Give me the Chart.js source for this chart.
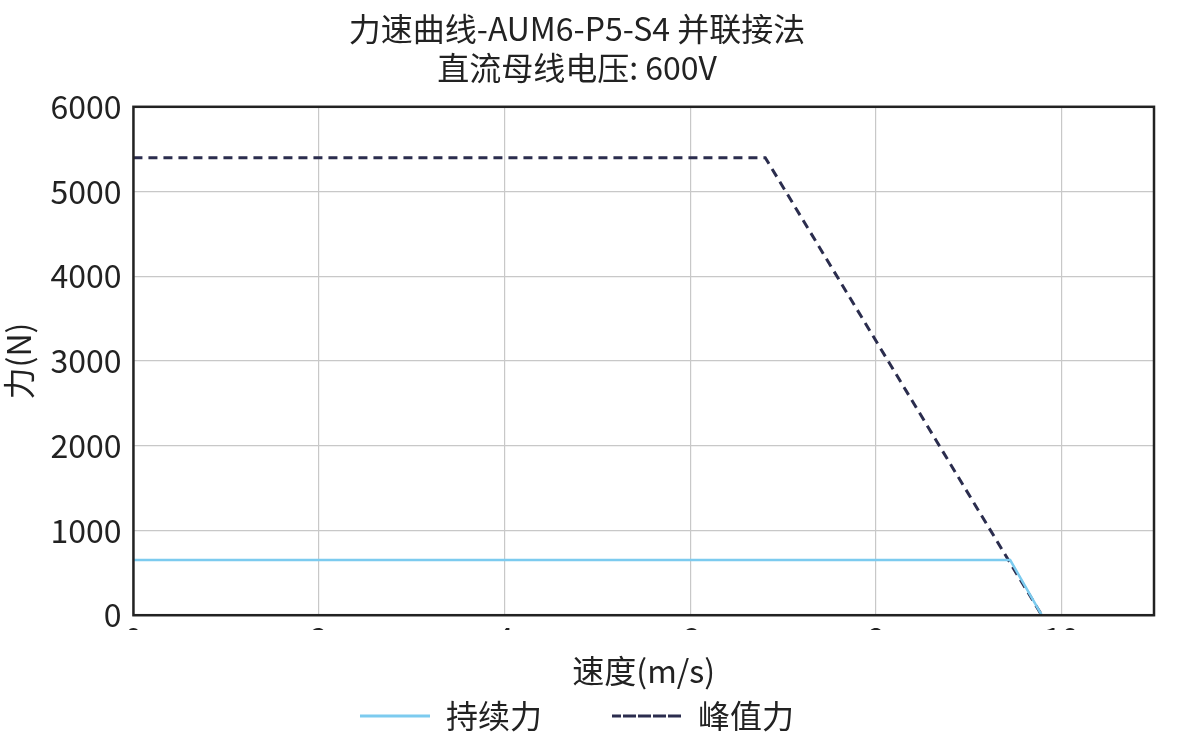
<!DOCTYPE html>
<html><head><meta charset="utf-8">
<script src="https://cdn.jsdelivr.net/npm/chart.js@4"></script>
<style>body{margin:0;background:#fff}#wrap{width:1198px;height:742px}</style>
</head><body><div id="wrap"><canvas id="c"></canvas></div>
<script>
const titleLines = ['力速曲线-AUM6-P5-S4 并联接法', '直流母线电压: 600V'];
const continuousSpeed = [0, 9.45, 9.79];
const continuousForce = [650, 650, 0];
const peakSpeed = [0, 6.81, 9.79];
const peakForce = [5400, 5400, 0];
const xTicks = [0, 2, 4, 6, 8, 10];

const font = 'Noto Sans CJK SC';
const frame = {
  id: 'frame',
  afterDraw(chart) {
    const a = chart.chartArea, g = chart.ctx;
    g.save(); g.strokeStyle = '#222'; g.lineWidth = 2.5;
    g.strokeRect(a.left, a.top, a.right - a.left, a.bottom - a.top);
    g.restore();
  }
};

new Chart(document.getElementById('c'), {
  type: 'line',
  data: {
    datasets: [
      { label: '持续力', data: continuousSpeed.map((x, i) => ({x, y: continuousForce[i]})),
        borderColor: '#7ccbef', borderWidth: 2.5, pointRadius: 0 },
      { label: '峰值力', data: peakSpeed.map((x, i) => ({x, y: peakForce[i]})),
        borderColor: '#2b2d4e', borderWidth: 3, borderDash: [9, 6], pointRadius: 0 }
    ]
  },
  options: {
    responsive: true, maintainAspectRatio: false, animation: false,
    layout: { padding: { right: 44, top: 10, bottom: 0 } },
    plugins: {
      title: { display: true, text: titleLines, color: '#222', font: { family: font, size: 32, weight: 'normal' }, padding: { bottom: 20 }, lineHeight: 1.25 },
      legend: { position: 'bottom', labels: { color: '#222', font: { family: font, size: 32 }, boxWidth: 70, boxHeight: 0, padding: 70,
        generateLabels: c => c.data.datasets.map((d, i) => ({ text: d.label, strokeStyle: d.borderColor, fillStyle: d.borderColor,
          lineWidth: 3, lineDash: d.borderDash || [], datasetIndex: i, fontColor: '#222' })) } },
      tooltip: { enabled: false }
    },
    scales: {
      x: { type: 'linear', min: 0, max: 11,
        afterBuildTicks: s => { s.ticks = xTicks.map(v => ({ value: v })); },
        ticks: { color: '#222', font: { family: font, size: 32 }, padding: 4 },
        grid: { color: '#c8c8c8', lineWidth: 1.2, drawTicks: false },
        border: { display: false },
        title: { display: true, text: '速度(m/s)', color: '#222', font: { family: font, size: 32 }, padding: { top: -10, bottom: -60 } } },
      y: { min: 0, max: 6000,
        ticks: { stepSize: 1000, color: '#222', font: { family: font, size: 32 }, padding: 12, callback: v => String(v) },
        grid: { color: '#c8c8c8', lineWidth: 1.2, drawTicks: false },
        border: { display: false },
        title: { display: true, text: '力(N)', color: '#222', font: { family: font, size: 32 }, padding: 0 } }
    }
  },
  plugins: [frame]
});
</script></body></html>
